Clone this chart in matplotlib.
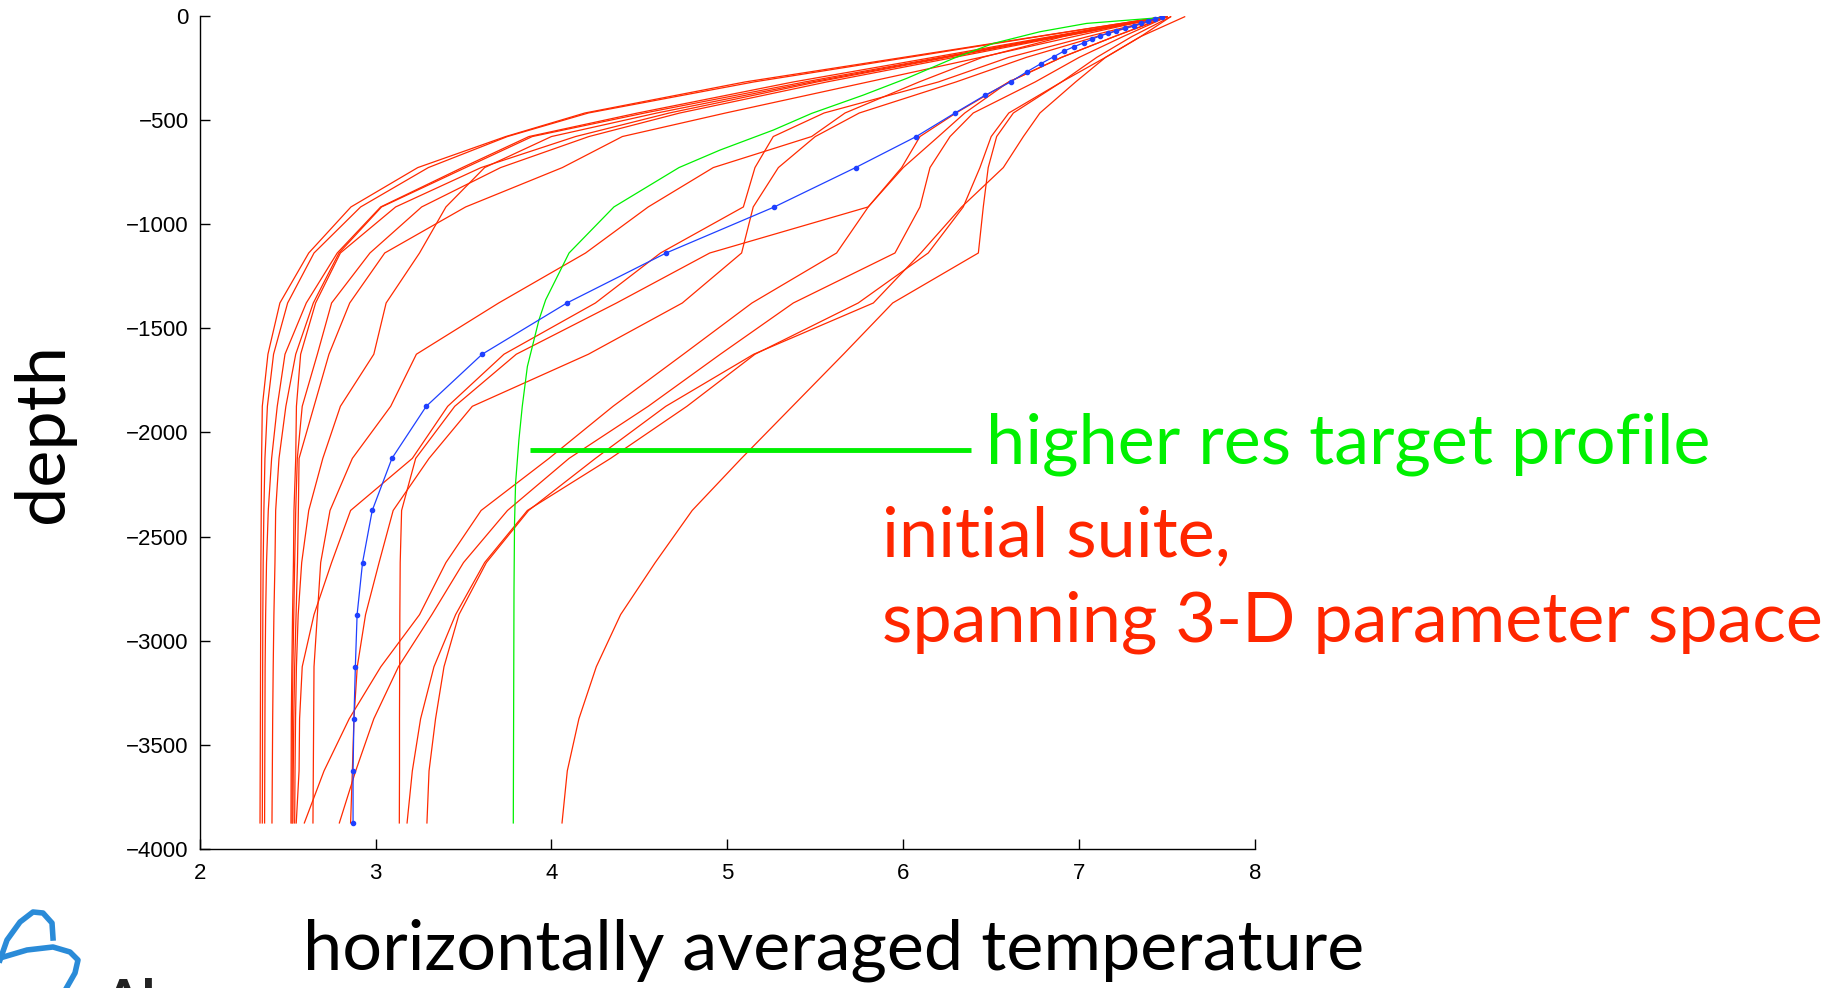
"""Temperature profiles: initial parameter suite vs. higher-res target profile."""

import matplotlib
matplotlib.use("Agg")
import matplotlib.pyplot as plt

# depth levels shared by the coarse runs (m)
DEPTH_LEVELS = [-5, -100, -200, -318, -467, -580, -729, -918, -1139, -1379,
                -1625, -1875, -2125, -2375, -2625, -2875, -3125, -3375, -3625, -3875]

# initial suite (red), temperature at DEPTH_LEVELS
RED_01 = [7.48, 6.76, 6.00, 5.10, 4.19, 3.74, 3.24, 2.86, 2.62, 2.456, 2.388, 2.356, 2.352, 2.350, 2.348, 2.347, 2.346, 2.345, 2.344, 2.343]
RED_02 = [7.48, 6.77, 6.03, 5.15, 4.21, 3.75, 3.30, 2.915, 2.65, 2.50, 2.42, 2.385, 2.371, 2.365, 2.361, 2.359, 2.358, 2.357, 2.357, 2.356]
RED_03 = [7.48, 6.84, 6.17, 5.375, 4.49, 3.872, 3.493, 3.029, 2.782, 2.606, 2.485, 2.441, 2.409, 2.39, 2.38, 2.375, 2.372, 2.371, 2.370, 2.369]
RED_04 = [7.48, 6.86, 6.21, 5.44, 4.53, 3.891, 3.512, 3.034, 2.792, 2.646, 2.546, 2.49, 2.451, 2.432, 2.428, 2.422, 2.418, 2.415, 2.413, 2.411]
RED_05 = [7.48, 6.88, 6.25, 5.51, 4.67, 4.137, 3.60, 3.114, 2.80, 2.659, 2.574, 2.55, 2.546, 2.536, 2.533, 2.528, 2.524, 2.521, 2.520, 2.519]
RED_06 = [7.48, 6.90, 6.29, 5.565, 4.73, 4.213, 3.711, 3.262, 2.968, 2.750, 2.669, 2.583, 2.555, 2.546, 2.540, 2.535, 2.530, 2.527, 2.526, 2.525]
RED_07 = [7.48, 6.97, 6.44, 5.80, 4.99, 4.403, 4.062, 3.512, 3.052, 2.853, 2.735, 2.65, 2.565, 2.561, 2.556, 2.548, 2.540, 2.535, 2.532, 2.530]
RED_08 = [7.48, 6.87, 6.23, 5.48, 4.60, 4.00, 3.62, 3.40, 3.25, 3.06, 2.99, 2.80, 2.70, 2.62, 2.58, 2.56, 2.55, 2.545, 2.542, 2.540]
RED_09 = [7.50, 7.05, 6.60, 6.20, 5.55, 5.261, 5.157, 5.091, 4.62, 4.25, 3.73, 3.41, 3.209, 2.858, 2.75, 2.65, 2.583, 2.568, 2.565, 2.549]
RED_10 = [7.50, 6.91, 6.45, 6.09, 5.669, 5.479, 4.92, 4.55, 4.194, 3.70, 3.232, 3.086, 2.868, 2.741, 2.688, 2.669, 2.65, 2.648, 2.646, 2.644]
RED_11 = [7.50, 7.20, 6.90, 6.60, 6.30, 6.095, 5.991, 5.801, 5.621, 5.14, 4.75, 4.35, 3.986, 3.60, 3.40, 3.25, 3.03, 2.85, 2.707, 2.595]
RED_12 = [7.50, 7.25, 7.00, 6.75, 6.398, 6.266, 6.152, 6.095, 5.953, 5.375, 4.96, 4.55, 4.10, 3.75, 3.50, 3.32, 3.13, 2.99, 2.887, 2.794]
RED_13 = [7.50, 7.10, 6.70, 6.30, 5.75, 5.50, 5.29, 5.147, 5.081, 4.744, 4.21, 3.55, 3.304, 3.10, 3.02, 2.943, 2.896, 2.877, 2.868, 2.858]
RED_14 = [7.50, 7.20, 6.90, 6.60, 6.35, 6.20, 6.00, 5.80, 4.90, 4.37, 3.80, 3.45, 3.228, 3.148, 3.14, 3.138, 3.137, 3.136, 3.136, 3.135]
RED_15 = [7.52, 7.30, 7.10, 6.90, 6.60, 6.50, 6.436, 6.341, 6.142, 5.744, 5.157, 4.77, 4.336, 3.863, 3.62, 3.455, 3.332, 3.256, 3.209, 3.179]
RED_16 = [7.52, 7.35, 7.15, 6.98, 6.777, 6.683, 6.569, 6.332, 6.10, 5.83, 5.15, 4.65, 4.25, 3.87, 3.63, 3.474, 3.389, 3.341, 3.304, 3.292]
RED_17 = [7.60, 7.35, 7.15, 6.90, 6.626, 6.531, 6.483, 6.455, 6.427, 5.94, 5.66, 5.37, 5.08, 4.80, 4.59, 4.393, 4.255, 4.156, 4.090, 4.060]

RED_PROFILES = [RED_01, RED_02, RED_03, RED_04, RED_05, RED_06, RED_07, RED_08, RED_09,
                RED_10, RED_11, RED_12, RED_13, RED_14, RED_15, RED_16, RED_17]

# blue run (with level markers)
BLUE_DEPTH = [-5, -15, -26, -37, -48, -60, -72, -85, -97, -112, -130, -149, -169, -197, -230,
              -269, -318, -382, -467, -580, -729, -918, -1139, -1379, -1625, -1875, -2125,
              -2375, -2625, -2875, -3125, -3375, -3625, -3875]
BLUE_TEMP = [7.473, 7.43, 7.39, 7.35, 7.31, 7.26, 7.21, 7.162, 7.118, 7.075, 7.027, 6.970, 6.916,
             6.855, 6.783, 6.703, 6.610, 6.465, 6.294, 6.074, 5.729, 5.267, 4.652, 4.088, 3.606,
             3.288, 3.093, 2.981, 2.926, 2.895, 2.885, 2.877, 2.872, 2.872]

# higher res target profile (green)
GREEN_DEPTH = [-8, -37, -77, -133, -205, -301, -381, -469, -549, -645, -729, -918, -1139,
               -1364, -1460, -1684, -1875, -2035, -2243, -2435, -2755, -3875]
GREEN_TEMP = [7.478, 7.042, 6.777, 6.512, 6.285, 6.019, 5.773, 5.479, 5.261, 4.958, 4.725,
              4.355, 4.10, 3.967, 3.929, 3.863, 3.834, 3.815, 3.796, 3.790, 3.787, 3.783]

RED = "#ff2a00"
GREEN = "#00f000"
BLUE = "#1f40ff"
BIG_FONT = ["Lato", "DejaVu Sans"]
BIG_SIZE = 50.5

fig = plt.figure(figsize=(18.37, 9.88), dpi=100)
ax = fig.add_axes([0.1087, 0.1407, 0.5745, 0.8434])

for prof in RED_PROFILES:
    ax.plot(prof, DEPTH_LEVELS, color=RED, linewidth=0.9)
ax.plot(GREEN_TEMP, GREEN_DEPTH, color=GREEN, linewidth=0.9)
ax.plot(BLUE_TEMP, BLUE_DEPTH, color=BLUE, linewidth=0.9, marker=".", markersize=6)

# pointer from label to the green profile
ax.plot([3.876, 6.383], [-2084, -2084], color=GREEN, linewidth=3.5, solid_capstyle="butt")

ax.set_xlim(2, 8)
ax.set_ylim(-4000, 0)
ax.set_xticks(range(2, 9))
ax.set_yticks(range(-4000, 1, 500))
for side in ["top", "right"]:
    ax.spines[side].set_visible(False)
for side in ["left", "bottom"]:
    ax.spines[side].set_linewidth(1.0)
ax.tick_params(direction="in", length=7, width=1.0, labelsize=16, pad=8)
for lab in ax.get_xticklabels() + ax.get_yticklabels():
    lab.set_family(["Liberation Sans", "DejaVu Sans"])
ax.tick_params(axis="x", pad=10)

fig.text(44 / 1837, 1 - 433 / 988, "depth", rotation=90, ha="center", va="center",
         fontsize=BIG_SIZE, family=BIG_FONT)
fig.text(834 / 1837, 1 - 969 / 988, "horizontally averaged temperature", ha="center",
         va="baseline", fontsize=BIG_SIZE, family=BIG_FONT)
fig.text(986 / 1837, 1 - 463 / 988, "higher res target profile", ha="left", va="baseline",
         fontsize=BIG_SIZE, color=GREEN, family=BIG_FONT)
fig.text(882 / 1837, 1 - 557 / 988, "initial suite,", ha="left", va="baseline",
         fontsize=BIG_SIZE, color="#ff2600", family=BIG_FONT)
fig.text(882 / 1837, 1 - 642 / 988, "spanning 3-D parameter space", ha="left", va="baseline",
         fontsize=BIG_SIZE, color="#ff2600", family=BIG_FONT)

# partial logo in the bottom-left corner
logo = fig.add_axes([0, 0, 1, 1], zorder=-1)
logo.set_xlim(0, 1837)
logo.set_ylim(988, 0)
logo.axis("off")
logo.plot([0, 7, 20, 33, 43, 52, 53], [960, 940, 922, 912, 913, 923, 938], color="#2a8bd8", linewidth=4)
logo.plot([0, 27, 53, 70, 78, 75, 67], [958, 950, 947, 952, 960, 973, 987], color="#2a8bd8", linewidth=4)
fig.text(103 / 1837, 1 - 978 / 988, "Al", ha="left", va="top", fontsize=40, fontweight="bold",
         color="#222222", family=BIG_FONT)

fig.savefig("out.png", dpi=100)
